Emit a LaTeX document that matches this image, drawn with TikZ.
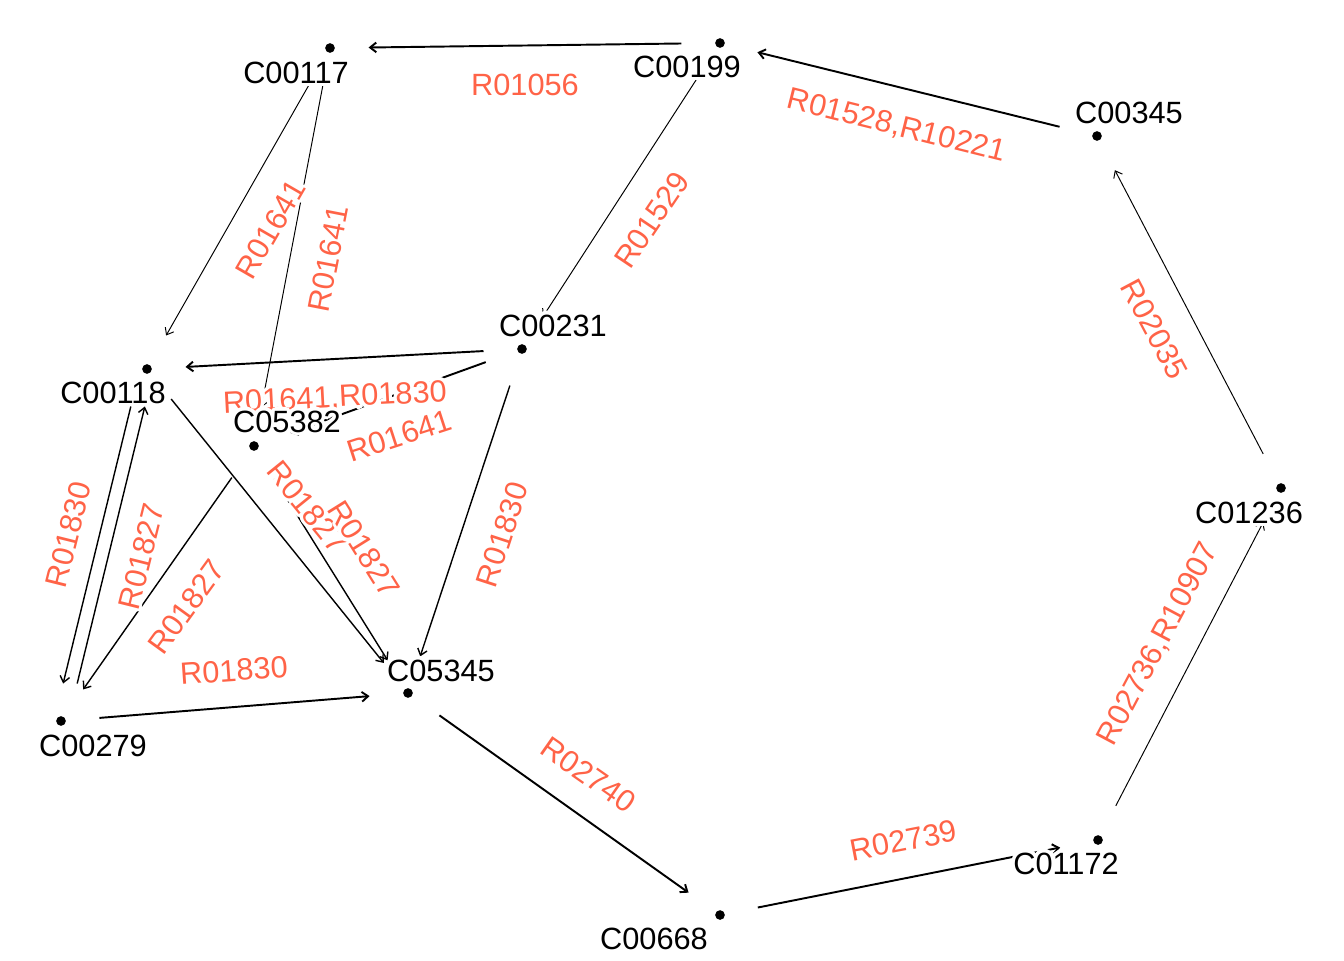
\documentclass[tikz,border=0pt]{standalone}
\usepackage{fontspec}
\setmainfont{Liberation Sans}
\usepackage{contour}
\contourlength{1.8pt}
\usepackage{tikz}
\usetikzlibrary{arrows.meta, positioning, calc}
\definecolor{rxncol}{RGB}{255,99,71}

\begin{document}
\begin{tikzpicture}[x=0.02cm, y=-0.02cm,
  cpd/.style={circle, fill=black, inner sep=0pt, minimum size=5.5pt},
  cname/.style={font=\fontsize{17.5}{20}\selectfont, inner sep=0pt},
  rxn/.style={font=\fontsize{17.5}{20}\selectfont, text=rxncol, inner sep=0pt},
  edge/.style={-{Straight Barb[length=3.5pt,width=5.5pt]}, shorten >=19pt, shorten <=19pt, line width=0.55pt},
  mid/.style={line width=0.8pt},
  wide/.style={line width=1.1pt}]
\useasboundingbox (0,0) rectangle (1344,960);

% compounds
\foreach \id/\x/\y in {00117/330/48, 00199/720/43, 00345/1097/136, 00231/522/349,
    00118/147/369, 05382/254/446, 01236/1281/488, 05345/408/693,
    00279/61/721, 00668/720/915, 01172/1098/840} {
    \node[cpd] (c\id) at (\x,\y) {};
}

% outer ring
\draw[edge, wide] (c00199) -- (c00117);
\draw[edge, wide] (c00345) -- (c00199);
\draw[edge] (c01236) -- (c00345);
\draw[edge] (c01172) -- (c01236);
\draw[edge, wide] (c00668) -- (c01172);
\draw[edge, wide] (c05345) -- (c00668);
\draw[edge] (c00199) -- (c00231);

% left cluster
\draw[edge] (c00117) -- (c00118);
\draw[edge] (c00117) -- (c05382);
\draw[edge, wide] (c00231) -- (c00118);
\draw[edge, wide] (c00231) -- (c05382);
\draw[edge, mid] (c00231) -- (c05345);
\draw[edge, mid, transform canvas={xshift=-4pt}] (c00118) -- (c00279);
\draw[edge, mid, transform canvas={xshift=4pt}] (c00279) -- (c00118);
\draw[edge, mid] (c05382) -- (c00279);
\draw[edge, mid] (c00118) -- (c05345);
\draw[edge, mid] (c05382) -- (c05345);
\draw[edge, wide] (c00279) -- (c05345);

% reaction labels
\foreach \t/\x/\y/\a [count=\k] in {R01056/525/86/0, {R01528,R10221}/896/128/-14,
    R02035/1153/330/-62, R01529/653/221/56, R01641/272/230/60, R01641/330/259/79,
    {R01641,R01830}/335/400/3, R01641/400/437/18, R01830/504/535/72,
    R01830/70/535/76, R01827/143/557/76, R01827/188/608/54, R01827/306/508/-51,
    R01827/363/550/-58, R01830/234/672/4, R02740/588/776/-35, R02739/904/842/11,
    {R02736,R10907}/1160/645/62} {
    \node[rxn, rotate=\a] (r\k) at (\x,\y) {\contour{white}{\t}};
}

% compound names
\foreach \id/\dx/\dy in {00117/-34/26, 00199/-33/25, 00345/32/-22, 00231/31/-22,
    00118/-34/25, 05382/33/-23, 01236/-32/26, 05345/33/-21,
    00279/32/26, 00668/-66/25, 01172/-32/25} {
    \node[cname] (n\id) at ($(c\id)+(\dx,\dy)$) {\contour{white}{C\id}};
}
\end{tikzpicture}
\end{document}
